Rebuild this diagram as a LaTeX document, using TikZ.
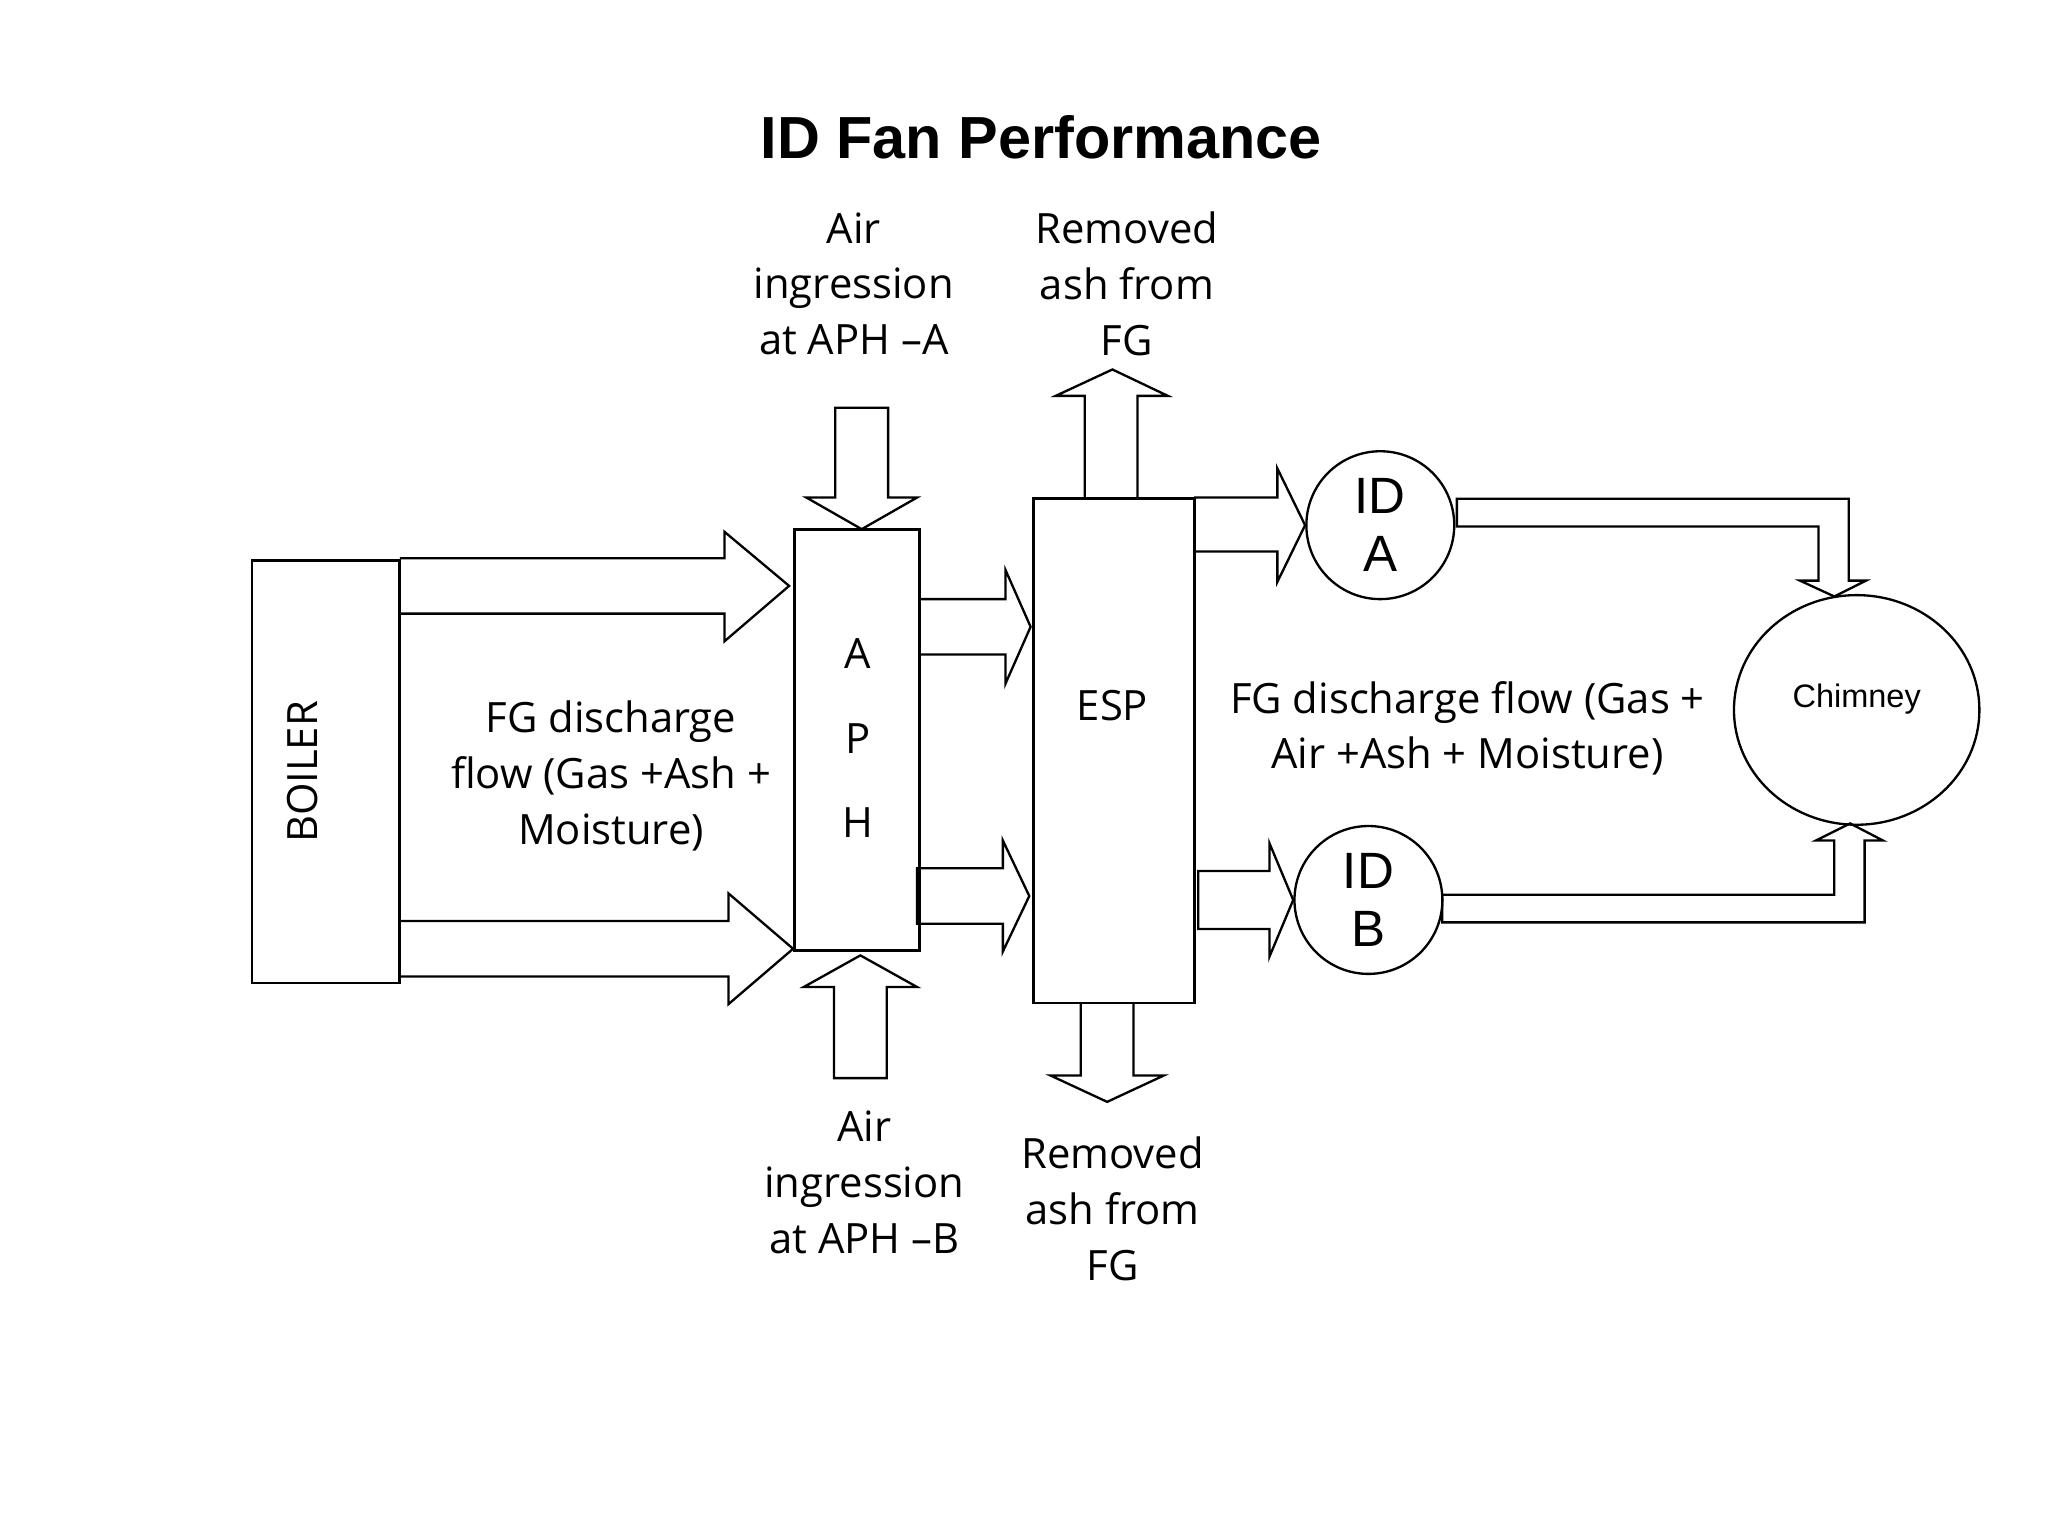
\documentclass[tikz,border=0pt]{standalone}
\usepackage{fontspec}
\setmainfont{Open Sans}
\newfontfamily\arialf{Liberation Sans}
\begin{document}
\begin{tikzpicture}[x=0.01cm,y=-0.01cm,line width=0.5pt,
  lbl/.style={align=center,font=\fontsize{9}{12}\selectfont,inner sep=0pt},
  box/.style={draw,line width=0.6pt},
  fan/.style={draw,circle,minimum size=1.12cm,inner sep=0pt,align=center,font=\arialf\fontsize{11}{12.5}\selectfont}]
\useasboundingbox (0,0) rectangle (1552,1164);

% title
\node[font=\arialf\bfseries\fontsize{12.8}{14}\selectfont] (title) at (789,104) {ID Fan Performance};

% --- main units ---------------------------------------
\draw[box] (191,425) rectangle (303,745);
\node[lbl,rotate=90] (boiler) at (229,585) {BOILER};
\draw[box] (602,401) rectangle (697,720);
\node[lbl] (a) at (650,495) {A};
\node[lbl] (p) at (650,560) {P};
\node[lbl] (h) at (650,623) {H};
\draw[box] (783,378) rectangle (905,760);
\node[lbl] (esp) at (843,535) {ESP};
\node[fan] (ida) at (1046,398) {ID\\A};
\node[fan] (idb) at (1037,682) {ID\\B};
\draw (1407,538) ellipse (93 and 87);
\node[font=\arialf\fontsize{7}{8}\selectfont] (chim) at (1407,530) {Chimney};

% --- block arrows: boiler -> APH ----------------------
\draw (303,423) -- (549,423) -- (549,403) -- (598,444) -- (549,486) -- (549,465) -- (303,465);
\draw (303,698) -- (552,698) -- (552,677) -- (601,719) -- (552,761) -- (552,740) -- (303,740);

% --- air ingression into APH --------------------------
\draw (633,309) -- (673,309) -- (673,377) -- (695,377) -- (653,401) -- (611,377) -- (633,377) -- cycle;
\draw (632,817) -- (672,817) -- (672,748) -- (695,748) -- (652,724) -- (609,748) -- (632,748) -- cycle;

% --- APH -> ESP ----------------------------------------
\draw (697,454) -- (762,454) -- (762,432) -- (781,475) -- (762,518) -- (762,496) -- (697,496);
\draw (695,658) -- (760,658) -- (760,637) -- (780,679) -- (760,721) -- (760,700) -- (695,700) -- cycle;

% --- ash removal ---------------------------------------
\draw (822,378) -- (822,300) -- (800,300) -- (843,280) -- (885,300) -- (862,300) -- (862,378);
\draw (819,760) -- (819,815) -- (796,815) -- (839,835) -- (882,815) -- (859,815) -- (859,760);

% --- ESP -> ID fans ------------------------------------
\draw (905,377) -- (968,377) -- (968,355) -- (989,398) -- (968,441) -- (968,418) -- (905,418);
\draw (908,660) -- (962,660) -- (962,639) -- (980,682) -- (962,725) -- (962,704) -- (908,704) -- cycle;

% --- ducts to chimney ---------------------------------
\draw (1104,378) -- (1401,378) -- (1401,440) -- (1414,440) -- (1390,452) -- (1364,440) -- (1378,440) -- (1378,399) -- (1104,399) -- cycle;
\draw (1093,678) -- (1390,678) -- (1390,637) -- (1376,637) -- (1402,624) -- (1427,637) -- (1413,637) -- (1413,699) -- (1093,699) -- cycle;

% --- labels ---------------------------------------------
\node[lbl] (airA) at (647,215) {Air\\ingression\\at APH \textendash A};
\node[lbl] (ashT) at (854,215) {Removed\\ash from\\FG};
\node[lbl] (airB) at (655,896) {Air\\ingression\\at APH \textendash B};
\node[lbl] (ashB) at (843,916) {Removed\\ash from\\FG};
\node[lbl] (fg1) at (463,588) {FG discharge\\flow (Gas +Ash +\\Moisture)};
\node[lbl] (fg2) at (1112,552) {FG discharge flow (Gas +\\Air +Ash + Moisture)};
\end{tikzpicture}
\end{document}
